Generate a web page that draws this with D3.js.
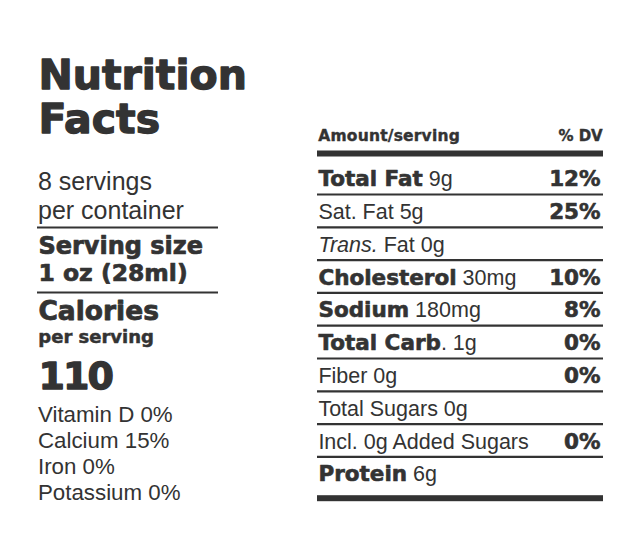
<!DOCTYPE html>
<html><head><meta charset="utf-8">
<script src="https://cdn.jsdelivr.net/npm/d3@7"></script>
<style>
html,body{margin:0;padding:0;background:#fff;}
svg{display:block;}
.b{font-family:"DejaVu Sans",sans-serif;font-weight:bold;stroke:#333;stroke-linejoin:round;}
.r{font-family:"Liberation Sans",Arial,sans-serif;font-weight:normal;}
</style></head>
<body>
<script>
// ---- data ----
const titleLines = ["Nutrition", "Facts"];
const servingLines = ["8 servings", "per container"];
const servingSize = ["Serving size", "1 oz (28ml)"];
const calorieLabel = ["Calories", "per serving"];
const calories = "110";
const vitamins = ["Vitamin D 0%", "Calcium 15%", "Iron 0%", "Potassium 0%"];
const headerLeft = "Amount/serving";
const headerRight = "% DV";
// each row: segments [text, style] where style b=bold, r=regular, i=italic
const rowSegments = [
  [["Total Fat","b"],[" 9g","r"]],
  [["Sat. Fat 5g","r"]],
  [["Trans.","i"],[" Fat 0g","r"]],
  [["Cholesterol","b"],[" 30mg","r"]],
  [["Sodium","b"],[" 180mg","r"]],
  [["Total Carb","b"],[". 1g","r"]],
  [["Fiber 0g","r"]],
  [["Total Sugars 0g","r"]],
  [["Incl. 0g Added Sugars","r"]],
  [["Protein","b"],[" 6g","r"]]
];
const rowDV = ["12%","25%","","10%","8%","0%","0%","","0%",""];

// ---- drawing ----
const W = 641, H = 537, ink = "#333";
const svg = d3.select("body").append("svg").attr("width", W).attr("height", H);

// left column
const L = 38;
svg.append("g").selectAll("text").data(titleLines).join("text")
  .attr("class","b").attr("x",L+0.5).attr("y",(d,i)=>89+i*44)
  .attr("font-size",41).attr("stroke-width",1.3).attr("fill",ink).text(d=>d);

svg.append("g").selectAll("text").data(servingLines).join("text")
  .attr("class","r").attr("x",L).attr("y",(d,i)=>190+i*28.5)
  .attr("font-size",25).attr("fill",ink).text(d=>d);

svg.append("g").selectAll("text").data(servingSize).join("text")
  .attr("class","b").attr("x",L+0.4).attr("y",(d,i)=>254+i*27)
  .attr("font-size",(d,i)=>i?23.5:24).attr("stroke-width",0.7).attr("fill",ink).text(d=>d);

const leftLines = [227.5, 292.5];
svg.append("g").selectAll("line").data(leftLines).join("line")
  .attr("x1",37).attr("x2",218).attr("y1",d=>d).attr("y2",d=>d)
  .attr("stroke",ink).attr("stroke-width",2.2);

svg.append("text").attr("class","b").attr("x",L+0.4).attr("y",320)
  .attr("font-size",26.5).attr("stroke-width",0.8).attr("fill",ink).text(calorieLabel[0]);
svg.append("text").attr("class","b").attr("x",L+0.3).attr("y",343)
  .attr("font-size",18).attr("stroke-width",0.5).attr("fill",ink).text(calorieLabel[1]);
svg.append("text").attr("class","b").attr("x",L+0.5).attr("y",389)
  .attr("font-size",38).attr("stroke-width",1.3).attr("letter-spacing",-2).attr("fill",ink).text(calories);

const vy = d3.scaleLinear().domain([0, 1]).range([422, 448]);
svg.append("g").selectAll("text").data(vitamins).join("text")
  .attr("class","r").attr("x",L).attr("y",(d,i)=>vy(i))
  .attr("font-size",22.3).attr("fill",ink).text(d=>d);

// right column
const RX0 = 317, RX1 = 603;
svg.append("text").attr("class","b").attr("x",318.3).attr("y",141)
  .attr("font-size",15.5).attr("stroke-width",0.4).attr("letter-spacing",0.2).attr("fill",ink).text(headerLeft);
svg.append("text").attr("class","b").attr("x",RX1-0.3).attr("y",141)
  .attr("text-anchor","end").attr("font-size",15).attr("stroke-width",0.4).attr("fill",ink).text(headerRight);

svg.append("rect").attr("x",RX0).attr("y",150.5).attr("width",RX1-RX0).attr("height",6)
  .attr("fill",ink);

const y = d3.scaleBand().domain(d3.range(rowSegments.length))
  .range([161.7, 161.7 + 32.8*rowSegments.length]).padding(0);

const rows = svg.append("g").selectAll("g").data(rowSegments).join("g");
rows.append("text").attr("x",318.4).attr("y",(d,i)=>y(i)+y.bandwidth()-8.3)
  .attr("fill",ink).attr("font-size",21.5)
  .each(function(segs){
    const t = d3.select(this);
    segs.forEach(([txt,st])=>{
      const s = t.append("tspan")
        .attr("font-family", st==="b" ? "DejaVu Sans" : "Liberation Sans, Arial")
        .attr("font-weight", st==="b" ? "bold" : "normal")
        .attr("font-style", st==="i" ? "italic" : "normal")
        .attr("font-size", st==="b" ? 21.5 : 21.5)
        .style("white-space","pre")
        .text(txt);
      if (st==="b") s.attr("stroke",ink).attr("stroke-width",0.6).attr("stroke-linejoin","round");
    });
  });
rows.append("text").attr("class","b").attr("x",600.6).attr("text-anchor","end")
  .attr("y",(d,i)=>y(i)+y.bandwidth()-8.3)
  .attr("font-size",21.5).attr("stroke-width",0.6).attr("fill",ink).text((d,i)=>rowDV[i]);

// separators between rows
svg.append("g").selectAll("line").data(d3.range(rowSegments.length-1)).join("line")
  .attr("x1",RX0).attr("x2",RX1)
  .attr("y1",i=>y(i)+y.bandwidth()).attr("y2",i=>y(i)+y.bandwidth())
  .attr("stroke",ink).attr("stroke-width",2.2);

svg.append("rect").attr("x",RX0).attr("y",y(rowSegments.length-1)+y.bandwidth()+5.5)
  .attr("width",RX1-RX0).attr("height",6).attr("fill",ink);
</script>
</body></html>
